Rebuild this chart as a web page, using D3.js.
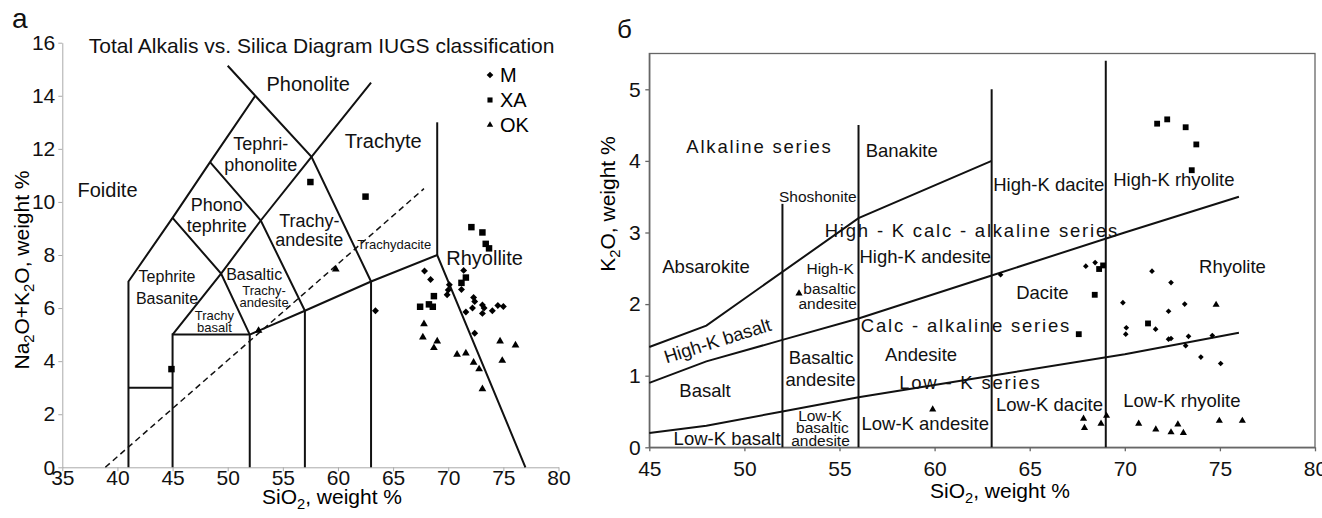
<!DOCTYPE html>
<html>
<head>
<meta charset="utf-8">
<style>
  body { margin: 0; background: #fff; }
  svg { display: block; font-family: "Liberation Sans", Arial, sans-serif; }
  .axisL path, .axisL line { stroke: #aaa; }
  .axisR path, .axisR line { stroke: #666; stroke-width: 1.3; }
  .tick text { fill: #111; }
  .bound { fill: none; stroke: #111; stroke-width: 2; }
  .lbl { fill: #111; text-anchor: middle; }
</style>
<script src="https://d3js.org/d3.v7.min.js"></script>
</head>
<body>
<script>
// ---------- TAS diagram (left) ----------
const tasXTicks = [35, 40, 45, 50, 55, 60, 65, 70, 75, 80];
const tasYTicks = [0, 2, 4, 6, 8, 10, 12, 14, 16];

// SiO2, Na2O+K2O
const tasM = [[63.4,5.9],[67.85,7.4],[68.4,7.08],[69.9,6.5],[70.0,6.68],[70.1,6.88],[71.2,6.7],[71.4,7.42],
  [71.6,5.85],[72.2,6.0],[72.3,6.4],[72.4,6.25],[72.4,5.05],[73.1,6.12],[73.25,6.0],[73.1,5.8],[74.0,5.9],[74.5,6.1],[75.0,6.06]];
const tasXA = [[57.5,10.75],[62.5,10.2],[44.9,3.7],[72.1,9.05],[73.1,8.85],[73.4,8.42],[73.7,8.25],[71.6,7.15],
  [71.2,6.95],[68.7,6.45],[67.45,6.05],[68.25,6.14],[68.6,6.05]];
const tasOK = [[52.8,5.15],[59.8,7.46],[67.8,5.4],[67.7,4.9],[69.0,4.75],[68.7,4.5],[70.8,4.25],[71.6,4.3],
  [72.3,3.95],[72.8,3.7],[73.1,2.95],[74.7,4.75],[74.9,4.02],[76.1,4.6]];

const tasBounds = [
  [[41,0],[41,7],[45,9.4],[48.4,11.5],[52.5,14]],
  [[41,3],[45,3]],
  [[45,0],[45,5],[52,5]],
  [[52,0],[52,5],[57,5.9],[63,7],[69,8],[77,0]],
  [[57,0],[57,5.9]],
  [[63,0],[63,7]],
  [[69,8],[69,13]],
  [[45,5],[49.4,7.3],[53,9.3],[57.6,11.7],[63,14.5]],
  [[45,9.4],[49.4,7.3],[52,5]],
  [[48.4,11.5],[53,9.3],[57,5.9]],
  [[50,15.13],[52.5,14],[57.6,11.7],[63,7]]
];
const tasDivider = [[38.9,0],[67.8,10.5]];

const tasNamesBig = [[57.3,14.45,"Phonolite"],[64.1,12.3,"Trachyte"],[39.1,10.45,"Foidite"],[73.3,7.9,"Rhyollite"]];
const tasNamesMid = [[53.0,12.2,"Tephri-"],[53.0,11.4,"phonolite"],[49.0,9.9,"Phono"],[49.0,9.1,"tephrite"],
  [57.4,9.3,"Trachy-"],[57.4,8.57,"andesite"]];
const tasNamesSmall = [[44.5,7.2,"Tephrite"],[44.5,6.38,"Basanite"],[52.4,7.27,"Basaltic"]];
const tasNamesTiny = [[65.1,8.38,"Trachydacite"],[53.3,6.67,"Trachy-"],[53.3,6.2,"andesite"],
  [48.8,5.73,"Trachy"],[48.8,5.26,"basalt"]];

// ---------- K2O vs SiO2 (right) ----------
const k2oXTicks = [45, 50, 55, 60, 65, 70, 75, 80];
const k2oYTicks = [0, 1, 2, 3, 4, 5];

const k2oM = [[63.47,2.41],[67.95,2.53],[68.44,2.58],[71.43,2.46],[72.43,2.3],[69.9,2.02],[73.15,2.0],[72.3,1.9],
  [70.08,1.67],[70.05,1.58],[71.62,1.65],[72.3,1.51],[72.43,1.52],[73.35,1.55],[73.2,1.42],[74.6,1.56],[74.0,1.26],[75.04,1.17]];
const k2oXA = [[71.7,4.52],[72.23,4.58],[73.2,4.47],[73.76,4.23],[73.52,3.87],[68.65,2.49],[68.86,2.54],
  [68.42,2.13],[71.22,1.73],[67.58,1.58]];
const k2oOK = [[52.87,2.15],[59.9,0.53],[67.83,0.40],[67.88,0.27],[68.75,0.33],[69.04,0.44],[70.73,0.33],
  [71.63,0.25],[72.43,0.21],[72.79,0.32],[73.08,0.20],[74.97,0.37],[76.18,0.37],[74.8,1.99]];

const k2oBounds = [
  [[45,1.4],[48,1.7],[56,3.2],[63,4.0]],
  [[45,0.9],[48,1.2],[52,1.5],[56,1.8],[63,2.4],[70,3.0],[76,3.5]],
  [[45,0.2],[48,0.3],[52,0.5],[56,0.7],[63,1.0],[70,1.3],[76,1.6]],
  [[52,0],[52,3.4]],
  [[56,0],[56,4.5]],
  [[63,0],[63,5.0]],
  [[69,0],[69,5.4]]
];

const k2oNames = [[58.27,4.15,"Banakite"],[66.0,3.67,"High-K dacite"],[72.58,3.74,"High-K rhyolite"],
  [47.98,2.53,"Absarokite"],[59.51,2.67,"High-K andesite"],[65.67,2.16,"Dacite"],[75.66,2.53,"Rhyolite"],
  [54.03,1.26,"Basaltic"],[54.0,0.94,"andesite"],[59.29,1.29,"Andesite"],[47.93,0.79,"Basalt"],
  [66.04,0.60,"Low-K dacite"],[73.0,0.65,"Low-K rhyolite"],[49.09,0.12,"Low-K basalt"],[59.51,0.33,"Low-K andesite"]];
const k2oNamesSmall = [[54.51,2.5,"High-K"],[54.48,2.22,"basaltic"],[54.38,2.01,"andesite"],
  [53.98,0.45,"Low-K"],[54.1,0.27,"basaltic"],[54.0,0.09,"andesite"],[53.86,3.5,"Shoshonite"]];
const k2oSeries = [[50.79,4.2,"Alkaline   series"],[61.96,3.03,"High - K calc - alkaline series"],
  [61.65,1.70,"Calc - alkaline series"],[61.88,0.91,"Low - K series"]];
const k2oRotated = [[48.58,1.49,"High-K basalt"]];

const legendItems = ["M", "XA", "OK"];

// ---------- drawing ----------
const W = 1322, H = 518;
const svg = d3.select("body").append("svg").attr("width", W).attr("height", H);

const xL = d3.scaleLinear().domain([35, 80]).range([62.3, 558.5]);
const yL = d3.scaleLinear().domain([0, 16]).range([467.3, 42.7]);
const xR = d3.scaleLinear().domain([45, 80]).range([649.3, 1315]);
const yR = d3.scaleLinear().domain([0, 5.5]).range([447.3, 53.5]);

function subText(sel, parts) {
  parts.forEach(p => {
    if (p[1]) {
      sel.append("tspan").attr("font-size", "0.7em").attr("dy", 5).text(p[0]);
    } else {
      sel.append("tspan").attr("dy", p[2] ? -5 : 0).text(p[0]);
    }
  });
}

function styleAxis(g, size) {
  g.attr("font-family", null).attr("font-size", null);
  g.selectAll("text").attr("font-size", size);
}

function drawLabels(g, x, y, list, size, spacing) {
  g.selectAll(null).data(list).join("text")
    .attr("class", "lbl")
    .attr("x", d => x(d[0])).attr("y", d => y(d[1]))
    .attr("dy", "0.35em")
    .attr("font-size", size)
    .attr("letter-spacing", spacing || null)
    .text(d => d[2]);
}

function drawPoints(g, x, y, list, kind, sz) {
  const gen = kind === "OK" ? d3.symbol(d3.symbolTriangle, sz) : d3.symbol(d3.symbolSquare, sz);
  g.selectAll(null).data(list).join("path")
    .attr("d", gen)
    .attr("fill", "#000")
    .attr("transform", d => `translate(${x(d[0])},${y(d[1])})` + (kind === "M" ? " rotate(45)" : ""));
}

// ----- left -----
const gL = svg.append("g");
gL.append("g").attr("class", "axisL").attr("transform", `translate(0,${yL(0)})`)
  .call(d3.axisBottom(xL).tickValues(tasXTicks).tickSize(4).tickSizeOuter(0).tickPadding(-1.5))
  .call(g => styleAxis(g, 21));
gL.append("g").attr("class", "axisL").attr("transform", `translate(${xL(35)},0)`)
  .call(d3.axisLeft(yL).tickValues(tasYTicks).tickSize(4).tickSizeOuter(0).tickPadding(3))
  .call(g => styleAxis(g, 21));

const lineL = d3.line().x(d => xL(d[0])).y(d => yL(d[1]));
gL.selectAll(null).data(tasBounds).join("path").attr("class", "bound").attr("d", lineL);
gL.append("path").attr("d", lineL(tasDivider))
  .attr("fill", "none").attr("stroke", "#111").attr("stroke-width", 1.5).attr("stroke-dasharray", "6,4");

drawLabels(gL, xL, yL, tasNamesBig, 20);
drawLabels(gL, xL, yL, tasNamesMid, 18);
drawLabels(gL, xL, yL, tasNamesSmall, 16);
drawLabels(gL, xL, yL, tasNamesTiny, 13);

drawPoints(gL, xL, yL, tasM, "M", 24);
drawPoints(gL, xL, yL, tasXA, "XA", 42);
drawPoints(gL, xL, yL, tasOK, "OK", 26);

gL.append("text").attr("x", 88.8).attr("y", 53).attr("font-size", 21).attr("fill", "#111")
  .text("Total Alkalis vs. Silica Diagram IUGS classification");
gL.append("text").attr("x", 12).attr("y", 28).attr("font-size", 28).attr("fill", "#111").text("а");

const leg = gL.append("g");
legendItems.forEach((k, i) => {
  const cy = 75 + i * 25;
  const gen = k === "OK" ? d3.symbol(d3.symbolTriangle, 18) : d3.symbol(d3.symbolSquare, k === "M" ? 22 : 26);
  leg.append("path").attr("d", gen).attr("fill", "#000")
    .attr("transform", `translate(490,${cy})` + (k === "M" ? " rotate(45)" : ""));
  leg.append("text").attr("x", 500).attr("y", cy).attr("dy", "0.35em").attr("font-size", 20).text(k);
});

const xtL = gL.append("text").attr("x", 332).attr("y", 504).attr("text-anchor", "middle").attr("font-size", 21);
subText(xtL, [["SiO"], ["2", true], [", weight %", false, true]]);
const ytL = gL.append("text").attr("transform", "translate(29,270) rotate(-90)")
  .attr("text-anchor", "middle").attr("font-size", 21);
subText(ytL, [["Na"], ["2", true], ["O+K", false, true], ["2", true], ["O, weight %", false, true]]);

// ----- right -----
const gR = svg.append("g");
gR.append("rect").attr("x", xR(45)).attr("y", yR(5.5))
  .attr("width", xR(80) - xR(45)).attr("height", yR(0) - yR(5.5))
  .attr("fill", "none").attr("stroke", "#666").attr("stroke-width", 1.3);
gR.append("g").attr("class", "axisR").attr("transform", `translate(0,${yR(0)})`)
  .call(d3.axisBottom(xR).tickValues(k2oXTicks).tickSize(4).tickSizeOuter(0).tickPadding(10))
  .call(g => styleAxis(g, 21));
gR.append("g").attr("class", "axisR").attr("transform", `translate(${xR(45)},0)`)
  .call(d3.axisLeft(yR).tickValues(k2oYTicks).tickFormat(d3.format("d")).tickSize(4).tickSizeOuter(0).tickPadding(4.5))
  .call(g => styleAxis(g, 21));

const lineR = d3.line().x(d => xR(d[0])).y(d => yR(d[1]));
gR.selectAll(null).data(k2oBounds).join("path").attr("class", "bound").attr("d", lineR);

drawLabels(gR, xR, yR, k2oNames, 18.5);
drawLabels(gR, xR, yR, k2oNamesSmall, 15.5);
drawLabels(gR, xR, yR, k2oSeries, 18.5, 1.8);
gR.selectAll(null).data(k2oRotated).join("text")
  .attr("class", "lbl").attr("font-size", 18.5).attr("dy", "0.35em")
  .attr("transform", d => `translate(${xR(d[0])},${yR(d[1])}) rotate(-17.5)`)
  .text(d => d[2]);

drawPoints(gR, xR, yR, k2oM, "M", 16);
drawPoints(gR, xR, yR, k2oXA, "XA", 34);
drawPoints(gR, xR, yR, k2oOK, "OK", 22);

gR.append("text").attr("x", 617).attr("y", 38).attr("font-size", 26).attr("fill", "#111").text("б");
const xtR = gR.append("text").attr("x", 1000).attr("y", 498).attr("text-anchor", "middle").attr("font-size", 21);
subText(xtR, [["SiO"], ["2", true], [", weight %", false, true]]);
const ytR = gR.append("text").attr("transform", "translate(615,204) rotate(-90)")
  .attr("text-anchor", "middle").attr("font-size", 21);
subText(ytR, [["K"], ["2", true], ["O, weight %", false, true]]);
</script>
</body>
</html>
